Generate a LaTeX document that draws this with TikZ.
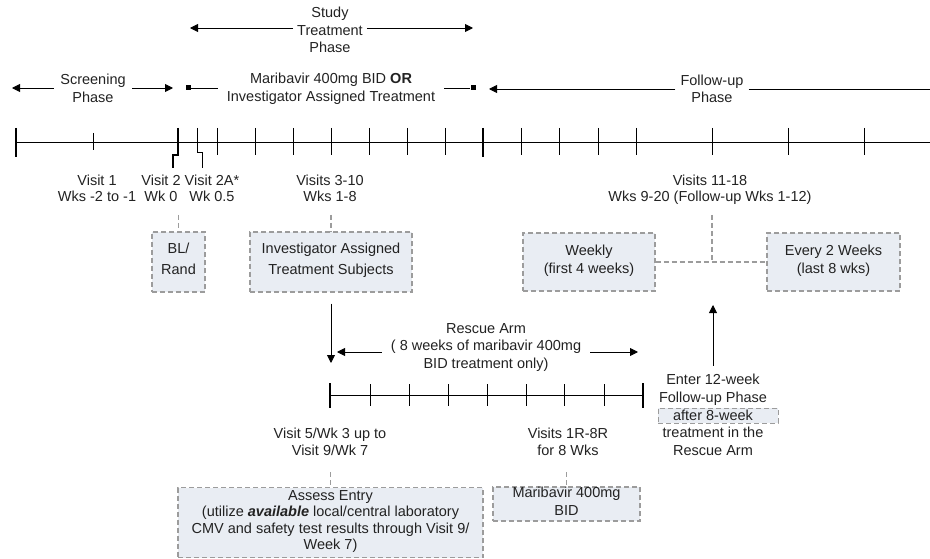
\documentclass[tikz,border=0pt]{standalone}
\usepackage{fontspec}
\setmainfont{Liberation Sans}
\usetikzlibrary{arrows.meta}
\definecolor{boxfill}{HTML}{E9EDF3}
\definecolor{dashgray}{HTML}{9C9C9C}
\definecolor{txt}{HTML}{222222}
\newcommand\myfs[1]{\fontsize{14.5}{#1}\selectfont}
\begin{document}
\begin{tikzpicture}[x=1pt,y=-1pt,
  lbl/.style={font={\myfs{17.5}}, text=txt, align=center, inner sep=0pt,
    execute at begin node=\strut, execute at end node=\strut},
  dbox/.style={lbl, draw=dashgray, fill=boxfill, dash pattern=on 5pt off 3pt, line width=1.3pt},
  dconn/.style={draw=dashgray, dash pattern=on 5pt off 3pt, line width=1.3pt},
  arr/.style={-{Triangle[length=8pt,width=8pt]}, line width=0.9pt},
  tl/.style={line width=0.9pt},
  tkthin/.style={line width=1pt},
  tkbold/.style={line width=2.5pt, line join=miter},
  sq/.style={fill=black, minimum size=5pt, inner sep=0pt}
]
\useasboundingbox (0,0) rectangle (930,559);

% ---- top phase labels ----
\node[lbl, inner xsep=4pt] (study) at (330,32.5) {Study\\Treatment\\Phase};
\coordinate (stL) at (190,28);
\coordinate (stR) at (473,28);
\draw[arr] (stL -| study.west) -- (stL);
\draw[arr] (stL -| study.east) -- (stR);

\node[lbl, font={\myfs{18}}, inner xsep=6.5pt] (scr) at (93,91) {Screening\\Phase};
\coordinate (scL) at (12,88);
\coordinate (scR) at (173,88);
\draw[arr] (scL -| scr.west) -- (scL);
\draw[arr] (scL -| scr.east) -- (scR);

\node[lbl, font={\myfs{18}}, inner xsep=9pt] (mtop) at (331,90) {Maribavir 400mg BID \textbf{OR}\\Investigator Assigned Treatment};
\node[sq] (sqL) at (188,88) {};
\node[sq] (sqR) at (473,88) {};
\draw[tl] (sqL) -- (mtop.west |- sqL);
\draw[tl] (mtop.east |- sqR) -- (sqR);

\node[lbl, font={\myfs{17}}, inner xsep=5pt] (fu) at (712,91.5) {Follow-up\\Phase};
\coordinate (fuL) at (489,89);
\coordinate (fuR) at (930,89);
\draw[arr] (fuL -| fu.west) -- (fuL);
\draw[tl] (fuL -| fu.east) -- (fuR);

% ---- main timeline ----
\draw[tl] (16,142) -- (930,142);
\foreach \x in {16,483} \draw[tkbold] (\x,128) -- (\x,157);
\draw[tkbold] (178,128) -- (178,155) -- (173,155) -- (173,168);
\draw[tkthin] (93,133) -- (93,150);
\draw[tkthin] (197,128) -- (197,153) -- (202,153) -- (202,168);
\foreach \x in {217,255,293,331,369,407,445,521,559,598,636,712,788,864}
  \draw[tkthin] (\x,128) -- (\x,155);

% ---- visit labels ----
\node[lbl, font={\myfs{16}}] (v1) at (97,191) {Visit 1\\Wks -2 to -1};
\node[lbl, font={\myfs{16}}] (v2) at (161,191) {Visit 2\\Wk 0};
\node[lbl, font={\myfs{16}}] (v2a) at (212,191) {Visit 2A*\\Wk 0.5};
\node[lbl, font={\myfs{16}}] (v310) at (330,191) {Visits 3-10\\Wks 1-8};
\node[lbl, font={\myfs{16}}] (v1118) at (710,191) {Visits 11-18\\Wks 9-20 (Follow-up Wks 1-12)};

% ---- boxes row 1 ----
\node[dbox, font={\myfs{21}}, minimum width=53pt, minimum height=60pt] (bl) at (178.5,262) {BL/\\Rand};
\node[dbox, font={\myfs{21}}, minimum width=162pt, minimum height=60pt] (inv) at (331,262) {Investigator Assigned\\Treatment Subjects};
\node[dbox, font={\myfs{18}}, minimum width=132pt, minimum height=58pt] (wk) at (589,262) {Weekly\\(first 4 weeks)};
\node[dbox, font={\myfs{18}}, minimum width=133pt, minimum height=58pt] (ev) at (833.5,262) {Every 2 Weeks\\(last 8 wks)};

\coordinate (blc) at (178.5,215);
\draw[dconn] (blc) -- (bl.north);
\coordinate (invc) at (331,215);
\draw[dconn] (invc) -- (inv.north);
\coordinate (fuc) at (712,215);
\coordinate (fuj) at (712,262);
\draw[dconn] (fuc) -- (fuj);
\draw[dconn] (wk.east) -- (ev.west);

% ---- arrow to rescue arm ----
\coordinate (rtip) at (331,363);
\draw[arr] ([yshift=-11pt]inv.south) -- (rtip);

% ---- rescue arm ----
\node[lbl, inner xsep=9pt] (resc) at (486,348.5) {Rescue Arm\\( 8 weeks of maribavir 400mg\\BID treatment only)};
\coordinate (rL) at (337,352);
\coordinate (rR) at (638,352);
\draw[arr] (rL -| resc.west) -- (rL);
\draw[arr] (rL -| resc.east) -- (rR);

\draw[tl] (330,395) -- (643,395);
\foreach \x in {330,643} \draw[tkbold] (\x,383) -- (\x,408);
\foreach \x in {370,409,448,487,526,564,604} \draw[tkthin] (\x,384) -- (\x,406);

\node[lbl, font={\myfs{17}}] (v5) at (330,444.5) {Visit 5/Wk 3 up to\\Visit 9/Wk 7};
\node[lbl, font={\myfs{17}}] (v1r) at (568,444.5) {Visits 1R-8R\\for 8 Wks};

\node[dbox, font={\myfs{16.3}}, minimum width=305pt, minimum height=70pt] (assess) at (330.5,522.5) {Assess Entry\\(utilize \textbf{\textit{available}} local/central laboratory\\CMV and safety test results through Visit 9/\\Week 7)};
\node[dbox, font={\myfs{18}}, minimum width=147pt, minimum height=34pt] (mbox) at (566.5,504) {Maribavir 400mg\\BID};

\coordinate (v5c) at (330.5,472);
\draw[dconn] (v5c) -- (assess.north);
\coordinate (v1rc) at (566.5,472);
\draw[dconn] (v1rc) -- (mbox.north);

% ---- enter follow-up ----
\node[draw=dashgray, fill=boxfill, dash pattern=on 5pt off 3pt, line width=1pt, minimum width=120pt, minimum height=15pt, inner sep=0pt] (abox) at (718,415.5) {};
\node[lbl, font={\myfs{17.7}}] (enter) at (713,417.5) {Enter 12-week\\Follow-up Phase\\after 8-week\\treatment in the\\Rescue Arm};
\coordinate (utip) at (713,305);
\draw[arr] ([yshift=8pt]enter.north) -- (utip);
\end{tikzpicture}
\end{document}
